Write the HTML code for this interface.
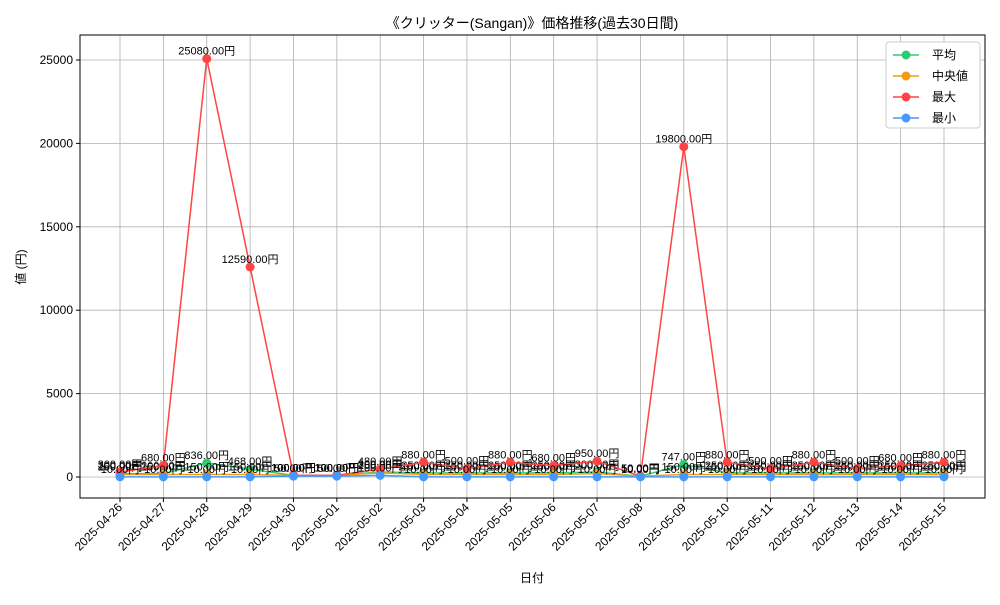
<!DOCTYPE html>
<html><head><meta charset="utf-8"><style>
body{margin:0;background:#fff;}
svg text{font-family:"Liberation Sans","Noto Sans CJK JP",sans-serif;}
</style></head><body>
<svg id="c" width="1000" height="600"></svg>
<script>
const categories=["2025-04-26","2025-04-27","2025-04-28","2025-04-29","2025-04-30","2025-05-01","2025-05-02","2025-05-03","2025-05-04","2025-05-05","2025-05-06","2025-05-07","2025-05-08","2025-05-09","2025-05-10","2025-05-11","2025-05-12","2025-05-13","2025-05-14","2025-05-15"];
const avgValues=[200,200,836,468,100,100,300,250,250,250,250,300,50,747,250,250,250,250,250,250];
const medianValues=[150,150,150,150,100,100,250,150,150,150,150,200,50,150,150,150,150,150,150,150];
const maxValues=[300,680,25080,12590,100,100,480,880,500,880,680,950,50,19800,880,500,880,500,680,880];
const minValues=[10,10,10,10,50,50,100,10,10,10,10,10,10,10,10,10,10,10,10,10];
const yTicks=[0,5000,10000,15000,20000,25000];
const series=[
 {name:"平均",color:"#2ecc71",vals:avgValues,key:"avg"},
 {name:"中央値",color:"#f39c12",vals:medianValues,key:"median"},
 {name:"最大",color:"#ff4444",vals:maxValues,key:"max"},
 {name:"最小",color:"#4499ff",vals:minValues,key:"min"}];
const L=80,R=985,T=35,B=498;
const x=i=>120+i*(944-120)/(categories.length-1);
const y=v=>477-v*(417/25000);
const s=document.getElementById('c');const NS="http://www.w3.org/2000/svg";
function mk(t,a,txt){const e=document.createElementNS(NS,t);for(const k in a)e.setAttribute(k,a[k]);if(txt!==undefined)e.textContent=txt;s.appendChild(e);return e;}
let e=mk('text',{x:532,y:28,'text-anchor':'middle','font-size':14},"《クリッター(Sangan)》価格推移(過去30日間)");

categories.forEach((c,i)=>{
 let g=mk('line',{x1:x(i),x2:x(i),y1:T,y2:B,stroke:'#b0b0b0','stroke-width':0.8});
 
 mk('line',{x1:x(i),x2:x(i),y1:B,y2:B+4,stroke:'#000'});
 let t=mk('text',{x:x(i)+3,y:B+10,'font-size':12,'text-anchor':'end',transform:`rotate(-45 ${x(i)+3} ${B+10})`},c);
 
});
yTicks.forEach(v=>{
 let g=mk('line',{x1:L,x2:R,y1:y(v),y2:y(v),stroke:'#b0b0b0','stroke-width':0.8});
 
 mk('line',{x1:L-4,x2:L,y1:y(v),y2:y(v),stroke:'#000'});
 let t=mk('text',{x:L-7,y:y(v)+4,'font-size':12,'text-anchor':'end'},String(v));
 
});
e=mk('rect',{x:L,y:T,width:R-L,height:B-T,fill:'none',stroke:'#000'});

e=mk('text',{x:532,y:582,'font-size':12,'text-anchor':'middle'},"日付");

e=mk('text',{x:25,y:267,'font-size':12,'text-anchor':'middle',transform:'rotate(-90 25 267)'},"値 (円)");

series.forEach(sr=>{
 let p=mk('polyline',{points:sr.vals.map((v,i)=>x(i)+','+y(v)).join(' '),fill:'none',stroke:sr.color,'stroke-width':1.5});
 
 sr.vals.forEach((v,i)=>{
  let c=mk('circle',{cx:x(i),cy:y(v),r:4.5,fill:sr.color});
  
  let t=mk('text',{x:x(i),y:y(v)-4,'font-size':11,'text-anchor':'middle'},v.toFixed(2)+"円");
  
 });
});
e=mk('rect',{x:886,y:42,width:94,height:86,fill:'#fff',stroke:'#ccc',rx:3});

series.forEach((sr,k)=>{
 const yy=55+k*21;
 mk('line',{x1:893,x2:919,y1:yy,y2:yy,stroke:sr.color,'stroke-width':1.5});
 mk('circle',{cx:906,cy:yy,r:4.5,fill:sr.color});
 let t=mk('text',{x:932,y:yy+4,'font-size':12},sr.name);
 
});
</script></body></html>
